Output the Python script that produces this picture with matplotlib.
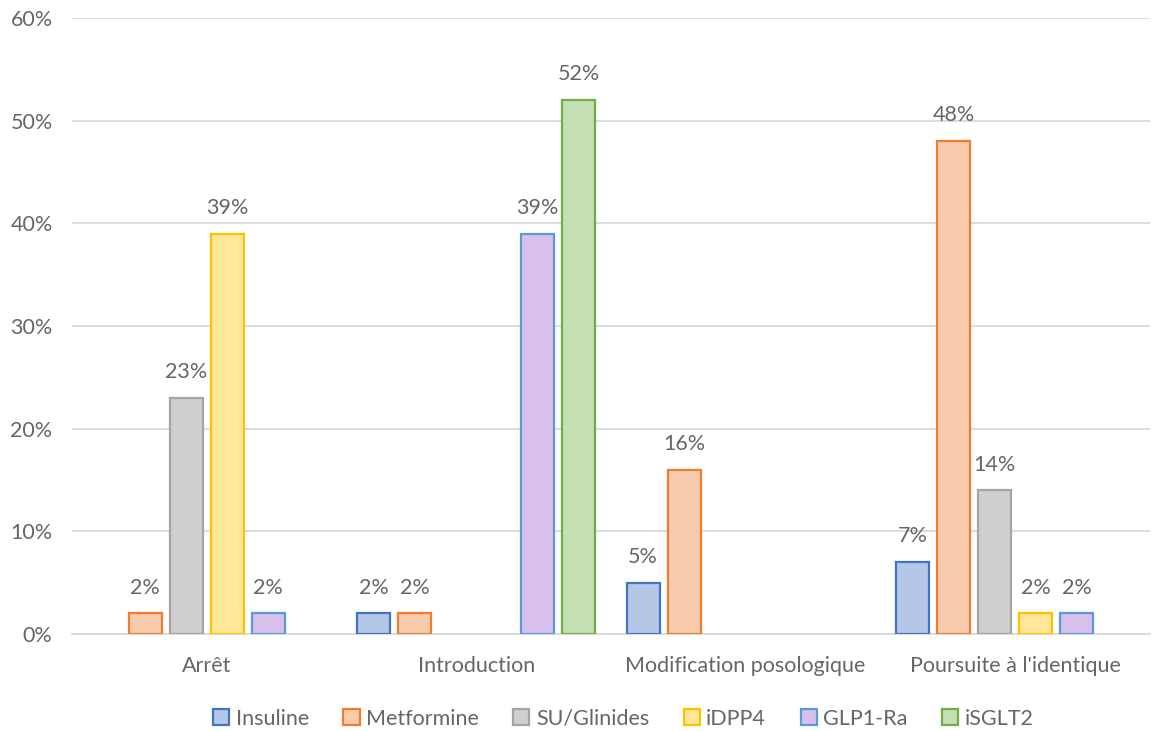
import matplotlib
matplotlib.use("Agg")
import matplotlib.pyplot as plt
import numpy as np
from matplotlib.ticker import PercentFormatter

categories = ["Arrêt", "Introduction", "Modification posologique", "Poursuite à l'identique"]
series = ["Insuline", "Metformine", "SU/Glinides", "iDPP4", "GLP1-Ra", "iSGLT2"]

insuline = [np.nan, 2, 5, 7]
metformine = [2, 2, 16, 48]
su_glinides = [23, np.nan, np.nan, 14]
idpp4 = [39, np.nan, np.nan, 2]
glp1_ra = [2, 39, np.nan, 2]
isglt2 = [np.nan, 52, np.nan, np.nan]

values = [insuline, metformine, su_glinides, idpp4, glp1_ra, isglt2]
fills = ["#B4C7E7", "#F8CBAD", "#D0CECE", "#FFE699", "#D9C0EC", "#C5E0B4"]
edges = ["#4472C4", "#ED7D31", "#A5A5A5", "#FFC000", "#5B9BD5", "#70AD47"]

plt.rcParams["font.family"] = ["Lato", "DejaVu Sans"]
txt = "#666666"
fs = 15.5

fig = plt.figure(figsize=(11.52, 7.31), dpi=100)
ax = fig.add_axes([0.0625, 0.1327, 0.9355, 0.8427])

x = np.arange(len(categories))
slot = 0.152
width = 0.1225
for i, (name, vals) in enumerate(zip(series, values)):
    pos = x + (i - 2.5) * slot
    v = np.array(vals, dtype=float)
    ax.bar(pos, v, width, color=fills[i], edgecolor=edges[i], linewidth=1.6,
           label=name, zorder=3)
    for p, val in zip(pos, v):
        if not np.isnan(val):
            ax.annotate("%d%%" % val, (p, val), xytext=(0, 18.5), textcoords="offset points",
                        ha="center", va="center", fontsize=fs, color=txt)

ax.set_xlim(-0.5, len(categories) - 0.5)
ax.set_ylim(0, 60)
ax.set_yticks(range(0, 61, 10))
ax.yaxis.set_major_formatter(PercentFormatter(decimals=0))
ax.set_xticks(x)
ax.set_xticklabels(categories)
ax.tick_params(axis="both", length=0, labelsize=fs, labelcolor=txt)
ax.tick_params(axis="x", pad=16)
ax.tick_params(axis="y", pad=14)
ax.grid(axis="y", color="#D9D9D9", linewidth=1.3, zorder=0)
for s in ["top", "right", "left"]:
    ax.spines[s].set_visible(False)
ax.spines["bottom"].set_color("#D9D9D9")
ax.spines["bottom"].set_linewidth(1.3)

handles, labels = ax.get_legend_handles_labels()
fig.legend(handles, labels, loc="center", bbox_to_anchor=(0.541, 0.017), ncol=6, frameon=False,
           fontsize=fs, handlelength=0.75, handleheight=0.75, handletextpad=0.3,
           columnspacing=1.6, labelcolor=txt, borderpad=0.1)

plt.savefig("out.png", dpi=100)
